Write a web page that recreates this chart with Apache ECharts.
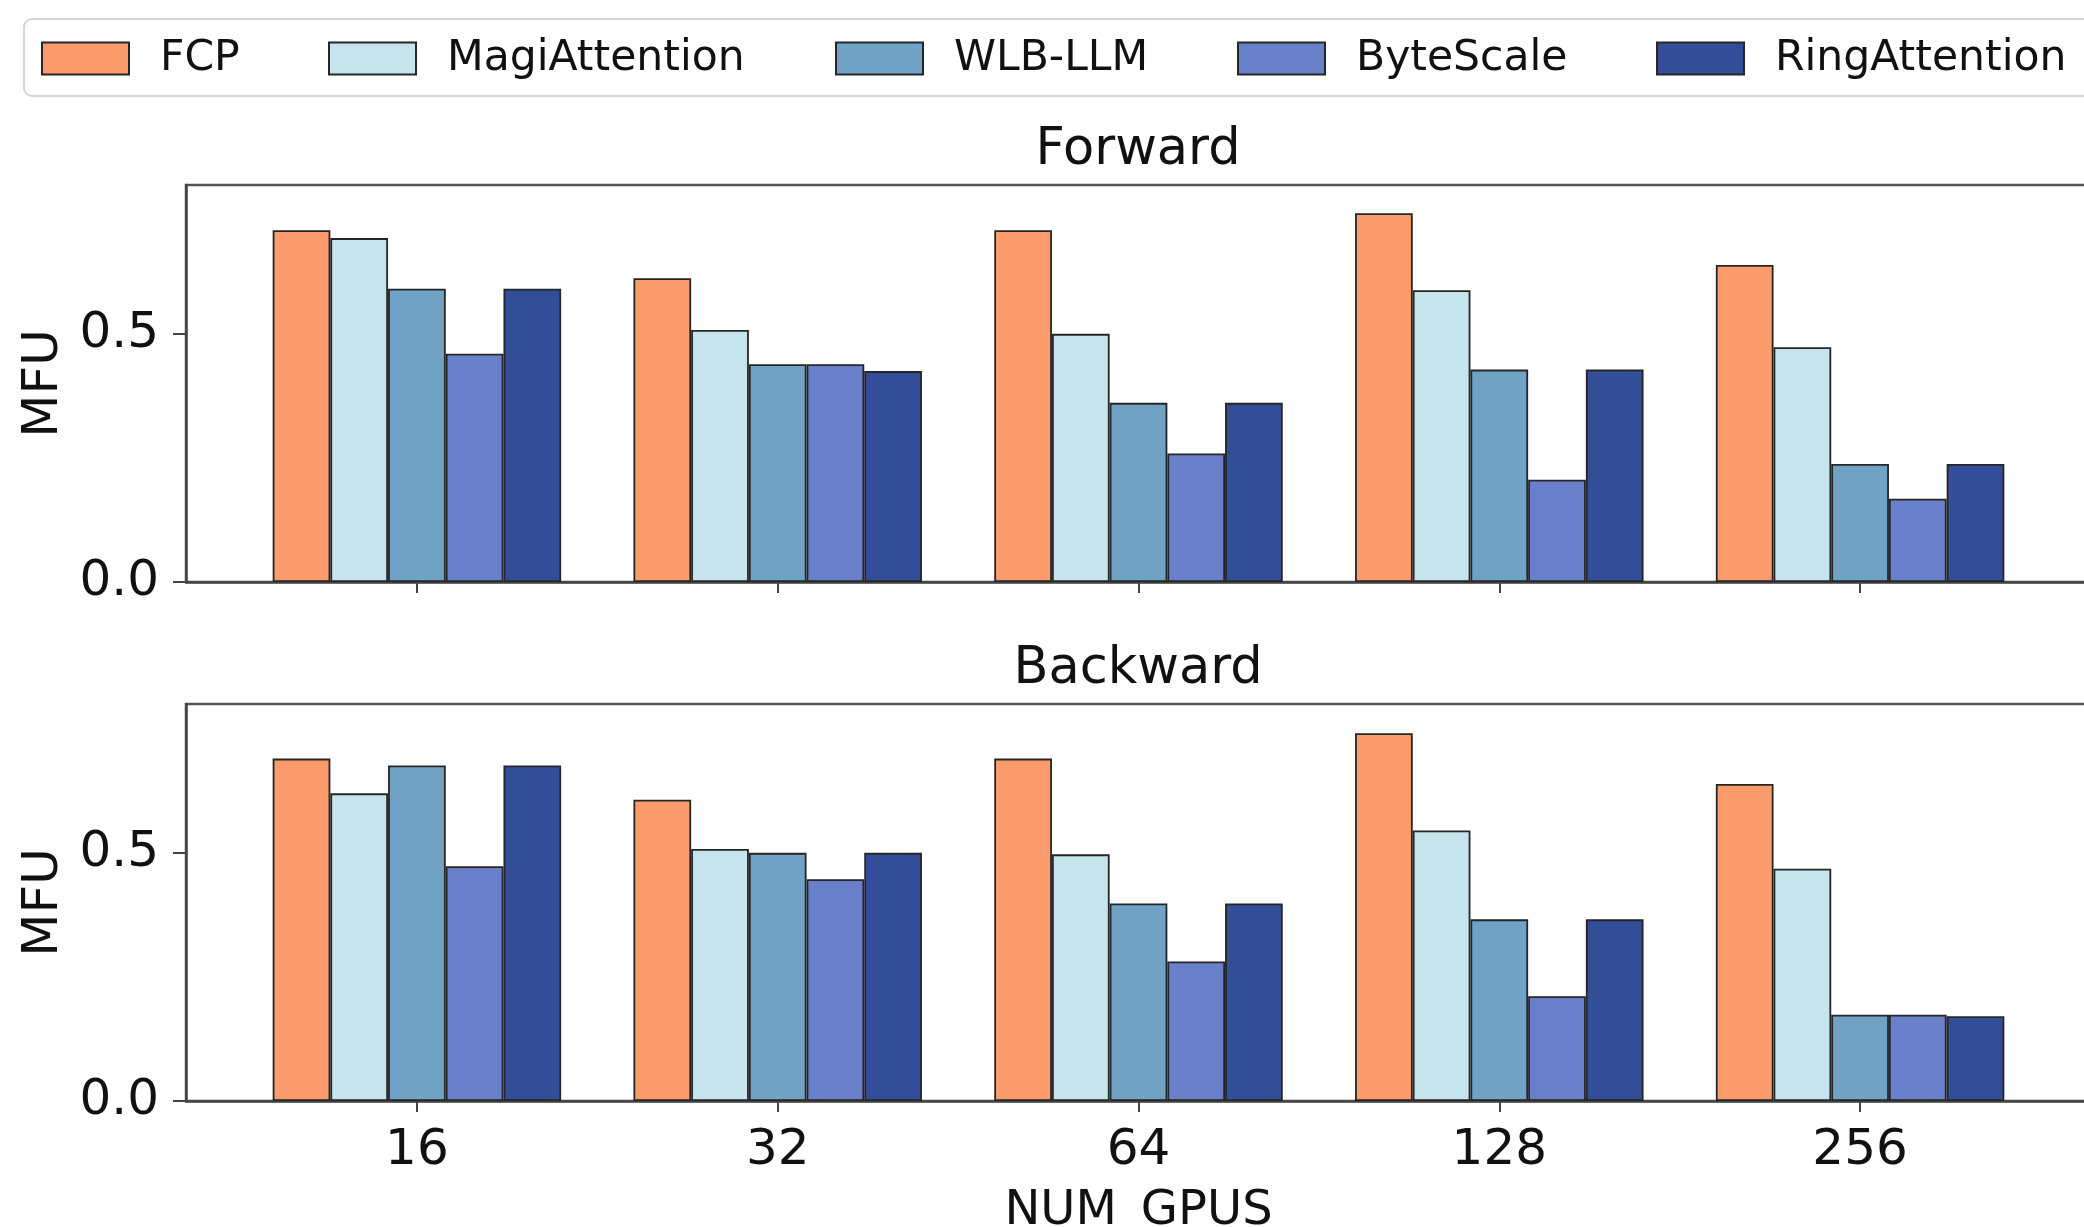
<!DOCTYPE html>
<html>
<head>
<meta charset="utf-8">
<script src="https://cdn.jsdelivr.net/npm/echarts@6/dist/echarts.min.js"></script>
<style>
  html, body { margin: 0; padding: 0; background: #ffffff; }
  #chart { width: 2084px; height: 1227px; }
</style>
</head>
<body>
<div id="chart"></div>
<script>
// ---- Data ----
const categories = ['16', '32', '64', '128', '256'];
const seriesNames = ['FCP', 'MagiAttention', 'WLB-LLM', 'ByteScale', 'RingAttention'];
const colors = ['#FC9B6B', '#C6E4EC', '#6FA2C4', '#6880C9', '#334E98'];
const panelTitles = ['Forward', 'Backward'];
const yTickValues = [0, 0.5];
const xAxisTitle = 'NUM_GPUS';
const yAxisTitle = 'MFU';

const forwardFCP  = [0.709, 0.612, 0.709, 0.743, 0.639];
const forwardMagi = [0.693, 0.508, 0.500, 0.588, 0.473];
const forwardWLB  = [0.591, 0.439, 0.361, 0.428, 0.238];
const forwardByte = [0.460, 0.439, 0.259, 0.206, 0.168];
const forwardRing = [0.591, 0.425, 0.361, 0.428, 0.238];

const backwardFCP  = [0.690, 0.607, 0.690, 0.741, 0.639];
const backwardMagi = [0.620, 0.508, 0.497, 0.545, 0.468];
const backwardWLB  = [0.676, 0.500, 0.398, 0.366, 0.174];
const backwardByte = [0.473, 0.447, 0.281, 0.211, 0.174];
const backwardRing = [0.676, 0.500, 0.398, 0.366, 0.171];

const forwardData = [forwardFCP, forwardMagi, forwardWLB, forwardByte, forwardRing];
const backwardData = [backwardFCP, backwardMagi, backwardWLB, backwardByte, backwardRing];

// ---- Chart ----
const FONT = 'DejaVu Sans';
const chart = echarts.init(document.getElementById('chart'), null, { renderer: 'canvas' });

const gridTops = [185, 704];
const gridHeight = 397;
const gridLeft = 186;
const gridWidth = 1905;
const catIdx = categories.map((c, i) => i);

function makeXAxis(gi, showLabels) {
  return {
    type: 'value', gridIndex: gi, min: -0.64, max: 4.64,
    axisLine: { show: true, onZero: false, lineStyle: { color: '#444', width: 2.5 } },
    axisTick: { show: true, customValues: catIdx, length: 11, lineStyle: { color: '#444', width: 2 } },
    axisLabel: {
      show: showLabels, customValues: catIdx, margin: 25,
      formatter: v => categories[Math.round(v)],
      fontFamily: FONT, fontSize: 50, color: '#111'
    },
    splitLine: { show: false },
    name: showLabels ? xAxisTitle : '',
    nameLocation: 'middle', nameGap: 87,
    nameTextStyle: { fontFamily: FONT, fontSize: 48, color: '#111' }
  };
}
function makeYAxis(gi) {
  return {
    type: 'value', gridIndex: gi, min: 0, max: 0.8, interval: 0.5,
    axisLine: { show: true, onZero: false, lineStyle: { color: '#444', width: 2.5 } },
    axisTick: { show: true, customValues: yTickValues, length: 13, lineStyle: { color: '#444', width: 2 } },
    axisLabel: {
      customValues: yTickValues, margin: 27,
      formatter: v => v.toFixed(1),
      fontFamily: FONT, fontSize: 50, color: '#111'
    },
    splitLine: { show: true, showMinLine: false, showMaxLine: false,
      lineStyle: { color: '#c8c8c8', width: 1.5, type: [5, 4] } },
    name: yAxisTitle, nameLocation: 'middle', nameRotate: 90, nameGap: 112,
    nameTextStyle: { fontFamily: FONT, fontSize: 50, color: '#111' }
  };
}

const series = [];
[forwardData, backwardData].forEach((panel, gi) => {
  panel.forEach((vals, si) => {
    series.push({
      type: 'bar', name: seriesNames[si], xAxisIndex: gi, yAxisIndex: gi,
      data: vals.map((v, i) => [catIdx[i], v]),
      barWidth: 57.7, barGap: '0%',
      itemStyle: { color: colors[si], borderColor: '#262626', borderWidth: 1.8 },
      emphasis: { disabled: true },
      animation: false
    });
  });
});

const legendLefts = [41, 328, 835, 1237, 1656];
const legends = seriesNames.map((n, i) => ({
  data: [n], left: legendLefts[i], top: 37, padding: 0,
  itemWidth: 87, itemHeight: 32, icon: 'rect',
  itemStyle: { borderColor: '#262626', borderWidth: 2 },
  textStyle: { fontFamily: FONT, fontSize: 42.5, color: '#111', padding: [0, 0, 0, 26] },
  selectedMode: false
}));

const option = {
  backgroundColor: '#ffffff',
  animation: false,
  title: panelTitles.map((t, i) => ({
    text: t, left: 1138, top: i === 0 ? 125 : 644, textAlign: 'center', padding: 0,
    textStyle: { fontFamily: FONT, fontSize: 51, fontWeight: 'normal', color: '#111' }
  })),
  legend: legends,
  graphic: [{
    type: 'rect', left: 23, top: 18, z: -1,
    shape: { width: 2100, height: 77, r: 8 },
    style: { fill: '#ffffff', stroke: '#d6d6d6', lineWidth: 2 }
  }],
  grid: gridTops.map(t => ({
    left: gridLeft, top: t, width: gridWidth, height: gridHeight,
    outerBoundsMode: 'none', containLabel: false,
    show: true, borderColor: '#555', borderWidth: 2.5, backgroundColor: 'transparent'
  })),
  xAxis: [makeXAxis(0, false), makeXAxis(1, true)],
  yAxis: [makeYAxis(0), makeYAxis(1)],
  series: series
};
chart.setOption(option);
</script>
</body>
</html>
